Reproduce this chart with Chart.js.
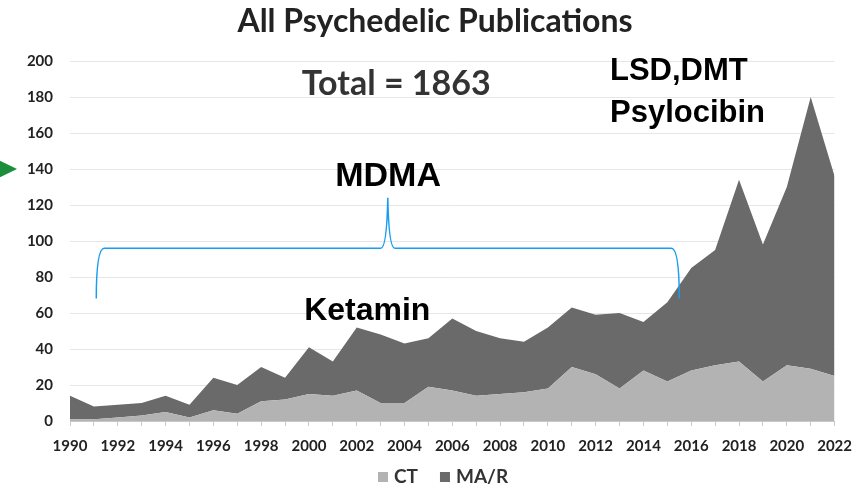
<!DOCTYPE html>
<html>
<head>
<meta charset="utf-8">
<script src="https://cdn.jsdelivr.net/npm/chart.js@4.4.1/dist/chart.umd.min.js"></script>
<style>
  html, body { margin: 0; padding: 0; background: #fff; }
  #wrap { width: 863px; height: 489px; position: relative; }
</style>
</head>
<body>
<div id="wrap"><canvas id="pubChart"></canvas></div>
<script>
// Data
const years = ['1990','1991','1992','1993','1994','1995','1996','1997','1998','1999',
               '2000','2001','2002','2003','2004','2005','2006','2007','2008','2009',
               '2010','2011','2012','2013','2014','2015','2016','2017','2018','2019',
               '2020','2021','2022'];
const ctValues = [1, 1, 2, 3, 5, 2, 6, 4, 11, 12,
                  15, 14, 17, 10, 10, 19, 17, 14, 15, 16,
                  18, 30, 26, 18, 28, 22, 28, 31, 33, 22,
                  31, 29, 25];
const totalValues = [14, 8, 9, 10, 14, 9, 24, 20, 30, 24,
                     41, 33, 52, 48, 43, 46, 57, 50, 46, 44,
                     52, 63, 59, 60, 55, 66, 85, 95, 134, 98,
                     130, 180, 136];
const marValues = totalValues.map((t, i) => t - ctValues[i]);
const yTicks = { min: 0, max: 200, step: 20 };

// Annotations (positions in data space: year, value)
const textNotes = [
    { text: 'Total = 1863', year: 1999.7, value: 187, font: 'bold 34px Lato', color: '#333' },
    { text: 'LSD,DMT', year: 2012.6, value: 194, font: 'bold 31px "Liberation Sans"', color: '#000' },
    { text: 'Psylocibin', year: 2012.6, value: 171, font: 'bold 31px "Liberation Sans"', color: '#000' },
    { text: 'MDMA', year: 2001.1, value: 136, font: 'bold 34px "Liberation Sans"', color: '#000' },
    { text: 'Ketamin', year: 1999.8, value: 61, font: 'bold 32px "Liberation Sans"', color: '#000' }
];
const brace = { from: 1991.1, to: 2015.5, mid: 2003.3, low: 68, line: 96, peak: 124 };

const annotationPlugin = {
    id: 'annotations',
    afterDraw(chart) {
        const ctx = chart.ctx;
        const xs = chart.scales.x, ys = chart.scales.y;
        const px = yr => xs.left + (yr - 1990) / 32 * (xs.right - xs.left);
        const py = v => ys.getPixelForValue(v);

        ctx.save();
        ctx.textBaseline = 'middle';

        // title
        ctx.fillStyle = '#222';
        ctx.font = 'bold 32px Lato';
        ctx.textAlign = 'center';
        ctx.fillText('All Psychedelic Publications', 435, 22);

        // text notes
        ctx.textAlign = 'left';
        textNotes.forEach(n => {
            ctx.font = n.font;
            ctx.fillStyle = n.color;
            ctx.fillText(n.text, px(n.year), py(n.value));
        });

        // legend
        ctx.font = 'bold 19px Lato';
        let lx = 378;
        const ly = 477;
        chart.data.datasets.forEach(ds => {
            ctx.fillStyle = ds.backgroundColor;
            ctx.fillRect(lx, ly - 5, 10, 10);
            ctx.fillStyle = '#333';
            ctx.fillText(ds.label, lx + 16, ly);
            lx += 16 + ctx.measureText(ds.label).width + 22;
        });

        // blue brace
        const x0 = px(brace.from), x1 = px(brace.to), xm = px(brace.mid);
        const yl = py(brace.low), yh = py(brace.line), yp = py(brace.peak);
        ctx.strokeStyle = '#1a9cf0';
        ctx.lineWidth = 1.5;
        ctx.beginPath();
        ctx.moveTo(x0, yl);
        ctx.quadraticCurveTo(x0, yh, x0 + 8, yh);
        ctx.lineTo(xm - 7, yh);
        ctx.quadraticCurveTo(xm - 1, yh, xm, yp);
        ctx.quadraticCurveTo(xm + 1, yh, xm + 7, yh);
        ctx.lineTo(x1 - 8, yh);
        ctx.quadraticCurveTo(x1, yh, x1, yl);
        ctx.stroke();

        // green arrow pointing at 140
        const ya = py(140);
        ctx.fillStyle = '#1b8e3c';
        ctx.beginPath();
        ctx.moveTo(-10, ya - 13);
        ctx.lineTo(17, ya);
        ctx.lineTo(-10, ya + 13);
        ctx.closePath();
        ctx.fill();
        ctx.restore();
    }
};

new Chart(document.getElementById('pubChart'), {
    type: 'line',
    data: {
        labels: years,
        datasets: [{
            label: 'CT',
            data: ctValues,
            backgroundColor: '#b3b3b3',
            borderWidth: 0,
            pointRadius: 0,
            fill: 'origin'
        }, {
            label: 'MA/R',
            data: marValues,
            backgroundColor: '#6a6a6a',
            borderWidth: 0,
            pointRadius: 0,
            fill: '-1'
        }]
    },
    options: {
        responsive: true,
        maintainAspectRatio: false,
        animation: false,
        layout: { padding: { top: 61, right: 20, left: 0, bottom: 0 } },
        plugins: {
            tooltip: { enabled: false },
            title: { display: false },
            legend: { display: false }
        },
        scales: {
            x: {
                stacked: true,
                offset: false,
                grid: { drawOnChartArea: false, drawTicks: true, tickLength: 5, color: '#c8c8c8' },
                border: { color: '#c8c8c8' },
                ticks: {
                    autoSkip: false,
                    maxRotation: 0,
                    padding: 11,
                    color: '#222',
                    font: { family: 'Lato', weight: 'bold', size: 15 },
                    callback: (v, i) => (i % 2 === 0 ? years[i] : '')
                },
                afterFit: s => { s.height = 68; }
            },
            y: {
                stacked: true,
                min: yTicks.min,
                max: yTicks.max,
                grid: { color: '#e6e6e6', drawTicks: false },
                border: { display: false },
                ticks: {
                    stepSize: yTicks.step,
                    padding: 17,
                    color: '#222',
                    font: { family: 'Lato', weight: 'bold', size: 15 }
                },
                afterFit: s => { s.width = 70; }
            }
        }
    },
    plugins: [annotationPlugin]
});
</script>
</body>
</html>
